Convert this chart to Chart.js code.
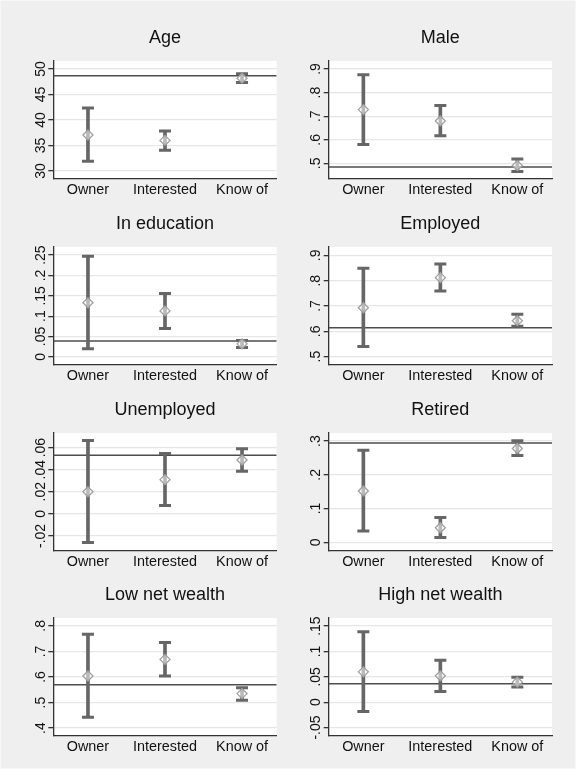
<!DOCTYPE html>
<html>
<head>
<meta charset="utf-8">
<script src="https://cdn.jsdelivr.net/npm/chart.js@4"></script>
<style>
  body { margin: 0; background: #f7f7f7; }
  #grafico { position: relative; width: 574px; height: 767px; margin: 1px; background: #efefef; overflow: hidden; }
  #grafico canvas { position: absolute; }
</style>
</head>
<body>
<div id="grafico"></div>
<script>
const categorias = ['Owner', 'Interested', 'Know of'];
const titulos = ['Age', 'Male', 'In education', 'Employed', 'Unemployed', 'Retired', 'Low net wealth', 'High net wealth'];

// media e intervalo de confianca por grupo
const ageMean = [37.06, 36.0, 48.2];
const ageLow = [31.9, 34.06, 47.35];
const ageHigh = [42.35, 37.84, 49.05];

const maleMean = [0.728, 0.680, 0.491];
const maleLow = [0.580, 0.617, 0.466];
const maleHigh = [0.876, 0.745, 0.519];

const educMean = [0.133, 0.113, 0.032];
const educLow = [0.020, 0.070, 0.023];
const educHigh = [0.247, 0.156, 0.040];

const employedMean = [0.693, 0.812, 0.642];
const employedLow = [0.540, 0.759, 0.620];
const employedHigh = [0.849, 0.866, 0.667];

const unemployedMean = [0.020, 0.031, 0.0488];
const unemployedLow = [-0.026, 0.0075, 0.0385];
const unemployedHigh = [0.0663, 0.0546, 0.059];

const retiredMean = [0.152, 0.043, 0.278];
const retiredLow = [0.033, 0.014, 0.257];
const retiredHigh = [0.273, 0.073, 0.301];

const lowWealthMean = [0.604, 0.669, 0.535];
const lowWealthLow = [0.442, 0.604, 0.509];
const lowWealthHigh = [0.767, 0.735, 0.558];

const highWealthMean = [0.0598, 0.052, 0.0396];
const highWealthLow = [-0.0186, 0.0212, 0.0298];
const highWealthHigh = [0.139, 0.0827, 0.0494];

// linha de referencia (populacao)
const referencias = [48.7, 0.485, 0.039, 0.614, 0.053, 0.294, 0.570, 0.0363];

const yTicks = [
    [30, 35, 40, 45, 50],
    [0.5, 0.6, 0.7, 0.8, 0.9],
    [0, 0.05, 0.1, 0.15, 0.2, 0.25],
    [0.5, 0.6, 0.7, 0.8, 0.9],
    [-0.02, 0, 0.02, 0.04, 0.06],
    [0, 0.1, 0.2, 0.3],
    [0.4, 0.5, 0.6, 0.7, 0.8],
    [-0.05, 0, 0.05, 0.1, 0.15]
];
const yMin = [28.43, 0.434, -0.020, 0.467, -0.0336, -0.026, 0.369, -0.0667];
const yMax = [51.57, 0.934, 0.270, 0.933, 0.0732, 0.324, 0.831, 0.166];

const medias = [ageMean, maleMean, educMean, employedMean, unemployedMean, retiredMean, lowWealthMean, highWealthMean];
const inferiores = [ageLow, maleLow, educLow, employedLow, unemployedLow, retiredLow, lowWealthLow, highWealthLow];
const superiores = [ageHigh, maleHigh, educHigh, employedHigh, unemployedHigh, retiredHigh, lowWealthHigh, highWealthHigh];

const xMin = 0.55;
const xMax = 3.45;
const fonte = "'Liberation Sans', Arial, sans-serif";
const corBarra = '#666666';

function rotuloStata(v) {
    const s = String(+v.toFixed(4));
    return s.replace(/^(-?)0\./, '$1.');
}

const fundoBranco = {
    id: 'fundoBranco',
    beforeDraw(chart) {
        const a = chart.chartArea;
        chart.ctx.save();
        chart.ctx.fillStyle = '#ffffff';
        chart.ctx.fillRect(a.left, a.top, a.right - a.left, a.bottom - a.top);
        chart.ctx.restore();
    }
};

// rotulos do eixo y na vertical, como no Stata
const rotulosY = {
    id: 'rotulosY',
    afterDraw(chart) {
        const escala = chart.scales.y;
        const ctx = chart.ctx;
        ctx.save();
        ctx.fillStyle = '#111111';
        ctx.font = `14px ${fonte}`;
        ctx.textAlign = 'center';
        ctx.textBaseline = 'alphabetic';
        escala.ticks.forEach(t => {
            const py = escala.getPixelForValue(t.value);
            ctx.save();
            ctx.translate(escala.right - 8.5, py);
            ctx.rotate(-Math.PI / 2);
            ctx.fillText(rotuloStata(t.value), 0, 0);
            ctx.restore();
        });
        ctx.restore();
    }
};

const container = document.getElementById('grafico');
const topos = [20, 206, 392, 577];

titulos.forEach((titulo, i) => {
    const coluna = i % 2;
    const linha = Math.floor(i / 2);
    const canvas = document.createElement('canvas');
    canvas.width = 288;
    canvas.height = 184;
    canvas.style.left = (coluna === 0 ? -1 : 287) + 'px';
    canvas.style.top = topos[linha] + 'px';
    container.appendChild(canvas);

    const larguraY = coluna === 0 ? 53.3 : 40.7;
    const margemDireita = coluna === 0 ? 11.3 : 24;

    new Chart(canvas.getContext('2d'), {
        type: 'bar',
        data: {
            datasets: [
                {
                    type: 'line',
                    data: [{ x: xMin, y: referencias[i] }, { x: xMax, y: referencias[i] }],
                    borderColor: '#4d4d4d',
                    borderWidth: 1.5,
                    pointRadius: 0,
                    order: 4
                },
                {
                    type: 'bar',
                    data: categorias.map((c, k) => ({ x: k + 1, y: [inferiores[i][k], superiores[i][k]] })),
                    backgroundColor: corBarra,
                    barThickness: 3,
                    borderWidth: 0,
                    order: 3
                },
                {
                    type: 'scatter',
                    data: categorias.map((c, k) => ({ x: k + 1, y: inferiores[i][k] })).concat(
                        categorias.map((c, k) => ({ x: k + 1, y: superiores[i][k] }))),
                    pointStyle: 'line',
                    pointRadius: 6,
                    borderColor: corBarra,
                    borderWidth: 3,
                    order: 2
                },
                {
                    type: 'scatter',
                    data: categorias.map((c, k) => ({ x: k + 1, y: medias[i][k] })),
                    pointStyle: 'rectRot',
                    pointRadius: 5,
                    borderColor: '#a0a0a0',
                    borderWidth: 1.3,
                    backgroundColor: 'rgba(255,255,255,0.55)',
                    order: 1
                }
            ]
        },
        options: {
            responsive: false,
            animation: false,
            events: [],
            layout: { padding: { top: 6.2, left: 0, right: margemDireita, bottom: 0 } },
            plugins: {
                legend: { display: false },
                tooltip: { enabled: false },
                title: {
                    display: true,
                    text: titulo,
                    fullSize: false,
                    color: '#111111',
                    font: { family: fonte, size: 18, weight: 'normal' },
                    padding: { top: 0, bottom: 12.2 }
                }
            },
            scales: {
                x: {
                    type: 'linear',
                    min: xMin,
                    max: xMax,
                    offset: false,
                    afterBuildTicks: s => { s.ticks = categorias.map((c, k) => ({ value: k + 1 })); },
                    afterFit: s => { s.height = 26; },
                    grid: { display: false, drawTicks: false, offset: false },
                    border: { display: true, color: '#333333', width: 1.3 },
                    ticks: {
                        padding: 2,
                        maxRotation: 0,
                        autoSkip: false,
                        color: '#111111',
                        font: { family: fonte, size: 14.4 },
                        callback: v => categorias[Math.round(v) - 1]
                    }
                },
                y: {
                    type: 'linear',
                    min: yMin[i],
                    max: yMax[i],
                    afterBuildTicks: s => { s.ticks = yTicks[i].map(v => ({ value: v })); },
                    afterFit: s => { s.width = larguraY; },
                    grid: {
                        color: '#e6e6e6',
                        lineWidth: 1.3,
                        tickColor: '#333333',
                        tickLength: 5,
                        drawTicks: true
                    },
                    border: { display: true, color: '#333333', width: 1.3 },
                    ticks: { display: false }
                }
            }
        },
        plugins: [fundoBranco, rotulosY]
    });
});
</script>
</body>
</html>
